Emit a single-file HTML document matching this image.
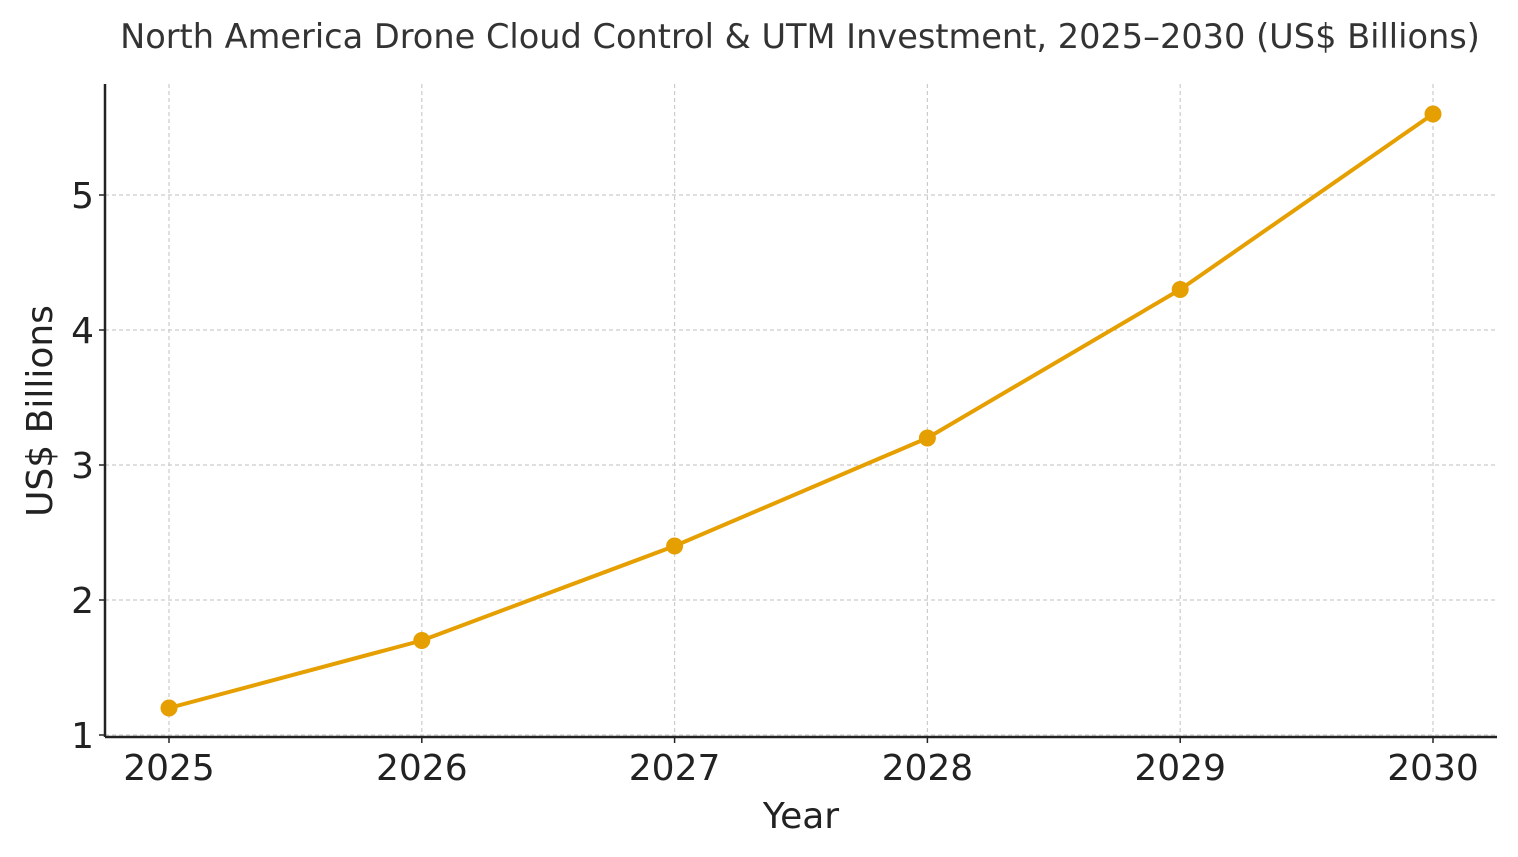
<!DOCTYPE html>
<html><head><meta charset="utf-8"><style>
html,body{margin:0;padding:0;background:#fff;}
svg{display:block;font-family:"DejaVu Sans","Liberation Sans",sans-serif;}
</style></head><body>
<svg id="chart" width="1518" height="857">
<text x="800" y="48" text-anchor="middle" font-size="33.6" fill="#333">North America Drone Cloud Control &amp; UTM Investment, 2025–2030 (US$ Billions)</text>
<g id="grid"></g>
<g id="axes"></g>
<g id="series"></g>
<text x="801" y="828" text-anchor="middle" font-size="36" fill="#222">Year</text>
<text transform="translate(52,411) rotate(-90)" text-anchor="middle" font-size="36" fill="#222">US$ Billions</text>
</svg>
<script>
const years = [2025, 2026, 2027, 2028, 2029, 2030];
const values = [1.2, 1.7, 2.4, 3.2, 4.3, 5.6];
const yTicks = [1, 2, 3, 4, 5];

const NS = "http://www.w3.org/2000/svg";
const L = 105, R = 1497, T = 84, B = 737;
function xs(v){ return 169 + (v - 2025) * (1433 - 169) / 5; }
function ys(v){ return 735 - (v - 1) * 135; }
function mk(tag, attrs, parent){
  const e = document.createElementNS(NS, tag);
  for (const k in attrs) e.setAttribute(k, attrs[k]);
  parent.appendChild(e); return e;
}
const grid = document.getElementById('grid');
const axes = document.getElementById('axes');
const series = document.getElementById('series');

years.forEach(y => {
  const g = mk('line', {x1: xs(y), x2: xs(y), y1: T, y2: B, stroke: '#ccc', 'stroke-width': 1.2, 'stroke-dasharray': '4,3'}, grid);
  
  
  const t = mk('text', {x: xs(y), y: 780, 'text-anchor': 'middle', 'font-size': 36, fill: '#222'}, axes);
  t.textContent = y;
  
  
  mk('line', {x1: xs(y), x2: xs(y), y1: B, y2: B + 6, stroke: '#222', 'stroke-width': 1.5}, axes);
});
yTicks.forEach(v => {
  const g = mk('line', {x1: L, x2: R, y1: ys(v), y2: ys(v), stroke: '#ccc', 'stroke-width': 1.2, 'stroke-dasharray': '4,3'}, grid);
  
  
  const t = mk('text', {x: 94, y: ys(v) + 13, 'text-anchor': 'end', 'font-size': 36, fill: '#222'}, axes);
  t.textContent = v;
  
  
  mk('line', {x1: L - 6, x2: L, y1: ys(v), y2: ys(v), stroke: '#222', 'stroke-width': 1.5}, axes);
});
const sp1 = mk('line', {x1: L, x2: L, y1: T, y2: B, stroke: '#222', 'stroke-width': 2.5}, axes);


const sp2 = mk('line', {x1: L, x2: R, y1: B, y2: B, stroke: '#222', 'stroke-width': 2.5}, axes);



const pts = years.map((y, i) => xs(y) + ',' + ys(values[i])).join(' ');
const line = mk('polyline', {points: pts, fill: 'none', stroke: '#E69F00', 'stroke-width': 4, 'stroke-linejoin': 'round'}, series);


years.forEach((y, i) => {
  const c = mk('circle', {cx: xs(y), cy: ys(values[i]), r: 8.5, fill: '#E69F00'}, series);
  
  
});
</script>
</body></html>
